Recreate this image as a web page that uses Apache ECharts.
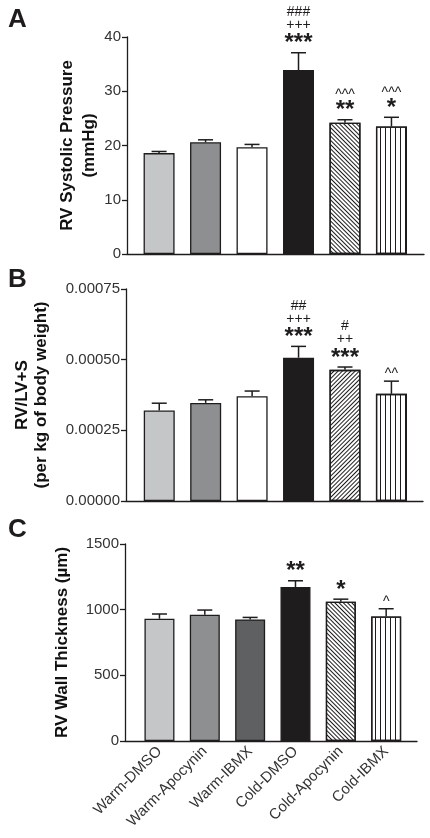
<!DOCTYPE html>
<html><head><meta charset="utf-8">
<script src="https://cdn.jsdelivr.net/npm/echarts@6/dist/echarts.min.js"></script>
<style>html,body{margin:0;padding:0;background:#fff}#c{width:430px;height:838px}</style>
</head><body><div id="c"></div>
<script>
// ---- data ----
const categories = ['Warm-DMSO','Warm-Apocynin','Warm-IBMX','Cold-DMSO','Cold-Apocynin','Cold-IBMX'];
const rvspMean = [18.6, 20.6, 19.7, 33.9, 24.2, 23.5];
const rvspSem  = [0.3, 0.45, 0.5, 3.2, 0.55, 1.7];
const rvlvMean = [0.00032, 0.000347, 0.000371, 0.000507, 0.000464, 0.000379];
const rvlvSem  = [0.000026, 0.000011, 0.000018, 0.00004, 0.00001, 0.000045];
const wallMean = [931, 961, 926, 1172, 1060, 948];
const wallSem  = [36, 36, 15, 48, 20, 59];
const rvspMarks = [[],[],[],['***','+++','###'],['**','^^^'],['*','^^^']];
const rvlvMarks = [[],[],[],['***','+++','##'],['***','++','#'],['^^']];
const wallMarks = [[],[],[],['**'],['*'],['^']];
const rvspAxis = {min:0, max:40, interval:10};
const rvlvAxis = {min:0, max:0.00075, interval:0.00025};
const wallAxis = {min:0, max:1500, interval:500};

// ---- styles ----
const FONT = "Arial, 'Liberation Sans', Helvetica, sans-serif";
const INK = '#1e1c1d';
const hatchBack = {symbol:'rect', symbolSize:1, dashArrayX:[1,0], dashArrayY:[1,2], rotation:Math.PI/4, color:INK};
const hatchFwd  = {symbol:'rect', symbolSize:1, dashArrayX:[1,0], dashArrayY:[1,2], rotation:-Math.PI/4, color:INK};
const vlines    = {symbol:'rect', symbolSize:1, dashArrayX:[1,4], dashArrayY:[1,0], rotation:0, color:INK};
function st(color, decal){ const s={color:color, borderColor:INK, borderWidth:1.3}; if(decal) s.decal=decal; return s; }
const stylesA = [st('#c5c6c8'), st('#8e8f91'), st('#ffffff'), st(INK), st('#ffffff',hatchBack), st('#ffffff',vlines)];
const stylesB = [st('#c5c6c8'), st('#8e8f91'), st('#ffffff'), st(INK), st('#ffffff',hatchFwd), st('#ffffff',vlines)];
const stylesC = [st('#c5c6c8'), st('#8e8f91'), st('#5f6062'), st(INK), st('#ffffff',hatchBack), st('#ffffff',vlines)];

function errRender(marks, cap){
  return function(params, api){
    const i = api.value(0), m = api.value(1), e = api.value(2);
    const p0 = api.coord([i, m]), p1 = api.coord([i, m + e]);
    const ls = {stroke:INK, lineWidth:1.5};
    const children = [
      {type:'line', shape:{x1:p0[0], y1:p0[1], x2:p1[0], y2:p1[1]}, style:ls},
      {type:'line', shape:{x1:p1[0]-cap, y1:p1[1], x2:p1[0]+cap, y2:p1[1]}, style:ls}
    ];
    let center = p1[1];
    (marks[Math.round(i)] || []).forEach(function(t, k){
      const ast = t[0] === '*';
      if (k === 0) center -= ast ? 15 : 10.5; else center -= 12.7;
      const corr = ast ? 6 : (t[0] === '^' ? 3.4 : 0);
      children.push({type:'text', x:p1[0], y:center + corr,
        style:{text:t, fontSize: ast ? 24 : 14, fontWeight: ast ? 'bold' : 'normal',
          fontFamily:FONT, fill:INK, align:'center', verticalAlign:'middle'}});
    });
    return {type:'group', children:children};
  };
}

const axisLine = {show:true, onZero:false, lineStyle:{color:INK, width:1.3}};
function xAx(g, min, max, labels){
  return {gridIndex:g, type:'value', min:min, max:max,
    axisLine:{show:true, lineStyle:{color:INK, width:1.3}}, axisTick:{show:false}, splitLine:{show:false},
    axisLabel: labels ? {show:true, customValues:[0,1,2,3,4,5], formatter:function(v){return categories[Math.round(v)];},
      rotate:45, fontSize:15, margin:8, color:'#333', fontFamily:FONT} : {show:false}};
}
function yAx(g, ax, name, gap, lh, fmt){
  return {gridIndex:g, type:'value', min:ax.min, max:ax.max, interval:ax.interval,
    axisLine:axisLine, axisTick:{show:true, length:5, lineStyle:{color:INK, width:1.3}}, splitLine:{show:false},
    axisLabel:{fontSize:15, color:'#333', fontFamily:FONT, margin:6, formatter:fmt || function(v){return String(v);}},
    name:name, nameLocation:'middle', nameRotate:90, nameGap:gap, nameMoveOverlap:false,
    nameTextStyle:{fontSize:17, fontWeight:'bold', color:'#111', fontFamily:FONT, lineHeight:lh}};
}
function barSeries(g, mean, styles, w){
  return {type:'bar', xAxisIndex:g, yAxisIndex:g, barWidth:w, z:2,
    data: mean.map(function(v,i){return {value:[i, v], itemStyle:styles[i]};})};
}
function errSeries(g, mean, sem, marks){
  return {type:'custom', xAxisIndex:g, yAxisIndex:g, z:3, clip:false, renderItem:errRender(marks, 7.5),
    data: mean.map(function(v,i){return [i, v, sem[i]];})};
}

const chart = echarts.init(document.getElementById('c'), null, {renderer:'canvas'});
chart.setOption({
  animation:false,
  backgroundColor:'#fff',
  title:[
    {text:'A', left:3, top:2, textStyle:{fontSize:26, fontWeight:'bold', color:INK, fontFamily:FONT}},
    {text:'B', left:3, top:262, textStyle:{fontSize:26, fontWeight:'bold', color:INK, fontFamily:FONT}},
    {text:'C', left:3, top:512, textStyle:{fontSize:26, fontWeight:'bold', color:INK, fontFamily:FONT}}
  ],
  grid:[
    {left:127, right:6, top:37, bottom:584},
    {left:126, right:7, top:289, bottom:337},
    {left:125, right:13, top:544, bottom:97}
  ],
  xAxis:[ xAx(0,-0.69,5.7,false), xAx(1,-0.716,5.68,false), xAx(2,-0.76,5.68,true) ],
  yAxis:[
    yAx(0, rvspAxis, 'RV Systolic Pressure\n(mmHg)', 27, 22),
    yAx(1, rvlvAxis, 'RV/LV+S\n(per kg of body weight)', 75, 19, function(v){return v.toFixed(5);}),
    yAx(2, wallAxis, 'RV Wall Thickness (µm)', 53, 20)
  ],
  series:[
    barSeries(0, rvspMean, stylesA, 31), errSeries(0, rvspMean, rvspSem, rvspMarks),
    barSeries(1, rvlvMean, stylesB, 31), errSeries(1, rvlvMean, rvlvSem, rvlvMarks),
    barSeries(2, wallMean, stylesC, 30), errSeries(2, wallMean, wallSem, wallMarks)
  ]
});
</script></body></html>
